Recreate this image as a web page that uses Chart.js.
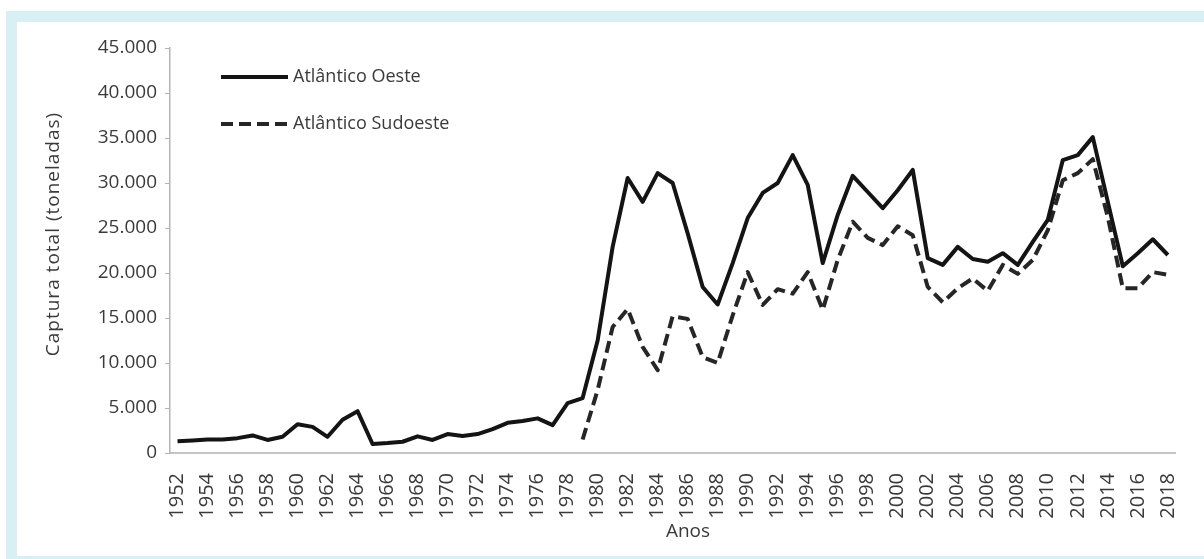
<!DOCTYPE html>
<html lang="pt">
<head>
    <meta charset="UTF-8">
    <title>Captura total - Atlântico</title>
    <script src="https://cdn.jsdelivr.net/npm/chart.js@4.4.1/dist/chart.umd.min.js"></script>
    <style>
        html, body { margin: 0; padding: 0; background: #fff; }
        .frame {
            position: absolute; left: 6px; top: 11px; right: 0; bottom: 0;
            border-style: solid; border-color: #d8eff4;
            border-width: 11px 0 3px 11px;
            background: #fff;
        }
        #wrap { position: absolute; left: 0; top: 0; width: 1204px; height: 559px; }
    </style>
</head>
<body>
    <div class="frame"></div>
    <div id="wrap"><canvas id="chart" width="1204" height="559"></canvas></div>

    <script>
        // Anos 1952..2018
        const years = [];
        for (let y = 1952; y <= 2018; y++) years.push(String(y));

        // Captura total (toneladas)
        const oeste = [
            1300, 1400, 1500, 1500, 1650, 1950, 1450, 1800, 3200, 2900,
            1800, 3700, 4650, 1000, 1100, 1250, 1850, 1450, 2100, 1900,
            2100, 2650, 3350, 3550, 3850, 3100, 5550, 6100, 12500, 22900,
            30550, 27900, 31100, 30000, 24400, 18450, 16500, 21100, 26100, 28900,
            30000, 33100, 29800, 21100, 26450, 30800, 29000, 27200, 29200, 31450,
            21650, 20900, 22900, 21550, 21250, 22200, 20900, 23450, 25900, 32550,
            33100, 35100, 27900, 20750, 22200, 23750, 22000
        ];
        const sudoeste = [
            null, null, null, null, null, null, null, null, null, null,
            null, null, null, null, null, null, null, null, null, null,
            null, null, null, null, null, null, null, 1500, 7000, 14000,
            16000, 11800, 9200, 15200, 14900, 10650, 10000, 15300, 20100, 16450,
            18200, 17700, 20100, 15900, 21450, 25700, 23900, 23100, 25200, 24200,
            18450, 16750, 18300, 19400, 18000, 20900, 19900, 21450, 24750, 30300,
            31100, 32650, 26200, 18300, 18300, 20100, 19800
        ];

        const yMax = 45000;
        const yStep = 5000;
        const yTitle = 'Captura total (toneladas)';
        const xTitle = 'Anos';

        const font = "'Open Sans', 'DejaVu Sans', sans-serif";
        const textColor = '#3a3a3a';

        // thousands separator with a dot, like 45.000
        const fmt = (v) => String(v).replace(/\B(?=(\d{3})+(?!\d))/g, '.');

        // legend inside the plot area + axis titles placed by hand
        const extras = {
            id: 'extras',
            afterDraw(chart) {
                const ctx = chart.ctx;
                const rows = [77, 124];
                ctx.save();
                chart.data.datasets.forEach((ds, i) => {
                    const y = rows[i];
                    ctx.beginPath();
                    ctx.strokeStyle = ds.borderColor;
                    ctx.lineWidth = ds.borderWidth;
                    ctx.setLineDash(ds.borderDash || []);
                    ctx.moveTo(221, y);
                    ctx.lineTo(288, y);
                    ctx.stroke();
                    ctx.setLineDash([]);
                    ctx.fillStyle = textColor;
                    ctx.font = '18px ' + font;
                    ctx.textBaseline = 'middle';
                    ctx.fillText(ds.label, 293, y);
                });

                ctx.fillStyle = textColor;
                ctx.textAlign = 'center';
                ctx.textBaseline = 'middle';

                // x title
                ctx.font = '19px ' + font;
                ctx.fillText(xTitle, 688, 532);

                // y title, rotated
                ctx.translate(54, 234);
                ctx.rotate(-Math.PI / 2);
                ctx.font = '19px ' + font;
                ctx.letterSpacing = '1px';
                ctx.fillText(yTitle, 0, 0);
                ctx.restore();
            }
        };

        new Chart(document.getElementById('chart'), {
            type: 'line',
            data: {
                labels: years,
                datasets: [
                    {
                        label: 'Atlântico Oeste',
                        data: oeste,
                        borderColor: '#141414',
                        borderWidth: 4,
                        pointRadius: 0,
                        tension: 0,
                        borderJoinStyle: 'round'
                    },
                    {
                        label: 'Atlântico Sudoeste',
                        data: sudoeste,
                        borderColor: '#262626',
                        borderWidth: 4,
                        borderDash: [12, 6],
                        pointRadius: 0,
                        tension: 0,
                        borderJoinStyle: 'round'
                    }
                ]
            },
            options: {
                responsive: false,
                animation: false,
                devicePixelRatio: 1,
                layout: { padding: { top: 48, right: 23, bottom: 0, left: 0 } },
                plugins: {
                    legend: { display: false },
                    tooltip: { enabled: false }
                },
                scales: {
                    x: {
                        offset: true,
                        grid: { display: false },
                        border: { display: true, color: '#c4c4c4', width: 2 },
                        ticks: {
                            autoSkip: false,
                            minRotation: 90,
                            maxRotation: 90,
                            padding: 12,
                            color: textColor,
                            font: { family: font, size: 20 },
                            callback: (v, i) => (i % 2 === 0 ? years[i] : '')
                        },
                        afterFit: (s) => { s.height = 106; }
                    },
                    y: {
                        min: 0,
                        max: yMax,
                        grid: {
                            display: true,
                            drawOnChartArea: false,
                            drawTicks: true,
                            tickLength: 5,
                            color: '#b4b4b4'
                        },
                        border: { display: true, color: '#b4b4b4', width: 1.5 },
                        ticks: {
                            stepSize: yStep,
                            padding: 8,
                            color: textColor,
                            font: { family: font, size: 19 },
                            callback: (v) => fmt(v)
                        },
                        afterFit: (s) => { s.width = 170; }
                    }
                }
            },
            plugins: [extras]
        });
    </script>
</body>
</html>
